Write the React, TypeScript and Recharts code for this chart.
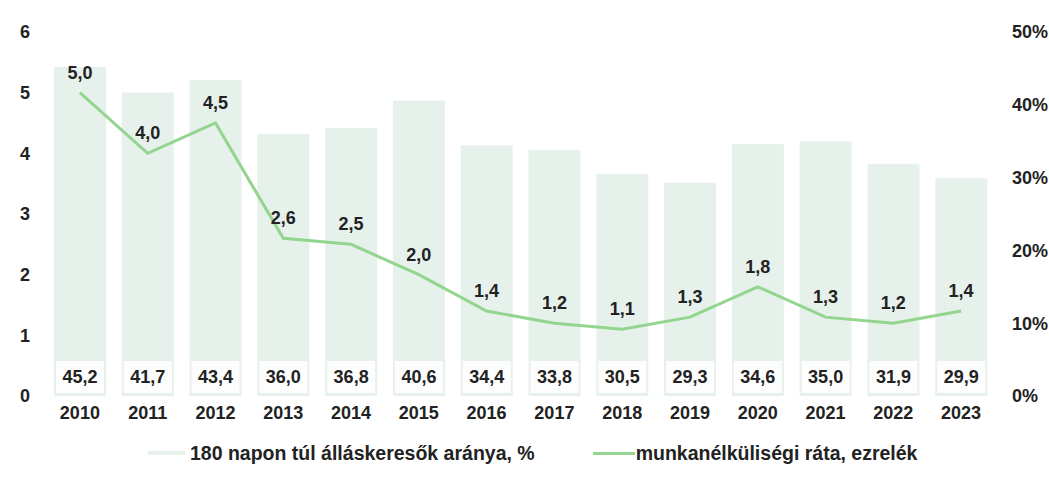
import { ComposedChart, Bar, Line, XAxis, YAxis, LabelList, Legend } from 'recharts';

const years = ['2010', '2011', '2012', '2013', '2014', '2015', '2016', '2017', '2018', '2019', '2020', '2021', '2022', '2023'];
// 180 napon túl álláskeresők aránya, %
const longTermShare = [45.2, 41.7, 43.4, 36.0, 36.8, 40.6, 34.4, 33.8, 30.5, 29.3, 34.6, 35.0, 31.9, 29.9];
// munkanélküliségi ráta, ezrelék
const unemploymentRate = [5.0, 4.0, 4.5, 2.6, 2.5, 2.0, 1.4, 1.2, 1.1, 1.3, 1.8, 1.3, 1.2, 1.4];
const leftTicks = [0, 1, 2, 3, 4, 5, 6];
const rightTicks = [0, 10, 20, 30, 40, 50];

const BAR_COLOR = '#e6f1eb';
const LINE_COLOR = '#93d58e';
const TEXT_COLOR = '#222222';
const FONT = '"Liberation Sans", Arial, sans-serif';

const data = years.map((year, i) => ({
  year,
  share: longTermShare[i],
  rate: unemploymentRate[i],
}));

const fmt = (v: number) => v.toFixed(1).replace('.', ',');

// white box with the value at the foot of each bar
const BarValueLabel = (props: any) => {
  const { x, y, width, height, value } = props;
  const bottom = y + height;
  return (
    <g>
      <rect x={x + 2} y={bottom - 35} width={width - 4} height={32} fill="#fdfdfd" />
      <text
        x={x + width / 2}
        y={bottom - 19}
        textAnchor="middle"
        dominantBaseline="central"
        fontFamily={FONT}
        fontWeight="bold"
        fontSize={18}
        fill={TEXT_COLOR}
      >
        {fmt(value)}
      </text>
    </g>
  );
};

const CustomLegend = () => (
  <div
    style={{
      display: 'flex',
      alignItems: 'center',
      paddingLeft: 148,
      marginTop: 12,
      height: 30,
      fontFamily: FONT,
      fontWeight: 'bold',
      fontSize: 19.5,
      color: TEXT_COLOR,
    }}
  >
    <span style={{ display: 'inline-block', width: 37, height: 4, background: BAR_COLOR, marginRight: 5 }} />
    <span>180 napon túl álláskeresők aránya, %</span>
    <span style={{ display: 'inline-block', width: 42, height: 3, background: LINE_COLOR, marginLeft: 58, marginRight: 1 }} />
    <span>munkanélküliségi ráta, ezrelék</span>
  </div>
);

export default function App() {
  const tickStyle = { fontFamily: FONT, fontWeight: 'bold', fontSize: 18, fill: TEXT_COLOR };
  return (
    <div style={{ position: 'absolute', left: 0, top: 0, background: '#fff' }}>
      <ComposedChart
        width={1049}
        height={481}
        data={data}
        margin={{ top: 32, right: 0, bottom: 25, left: 0 }}
        barCategoryGap={16}
      >
        <XAxis
          dataKey="year"
          axisLine={false}
          tickLine={false}
          tickSize={0}
          tickMargin={10}
          height={30}
          tick={tickStyle}
          interval={0}
        />
        <YAxis
          yAxisId="left"
          domain={[0, 6]}
          ticks={leftTicks}
          axisLine={false}
          tickLine={false}
          tickSize={0}
          tickMargin={16}
          width={46}
          tick={tickStyle}
        />
        <YAxis
          yAxisId="right"
          orientation="right"
          domain={[0, 50]}
          ticks={rightTicks}
          tickFormatter={(v) => `${v}%`}
          axisLine={false}
          tickLine={false}
          tickSize={0}
          tickMargin={17}
          width={54}
          tick={tickStyle}
        />
        <Legend
          verticalAlign="bottom"
          content={<CustomLegend />}
          wrapperStyle={{ height: 30 }}
        />
        <Bar
          yAxisId="right"
          dataKey="share"
          name="180 napon túl álláskeresők aránya, %"
          fill={BAR_COLOR}
          barSize={52}
          isAnimationActive={false}
        >
          <LabelList dataKey="share" content={<BarValueLabel />} />
        </Bar>
        <Line
          yAxisId="left"
          type="linear"
          dataKey="rate"
          name="munkanélküliségi ráta, ezrelék"
          stroke={LINE_COLOR}
          strokeWidth={3}
          dot={false}
          isAnimationActive={false}
        >
          <LabelList
            dataKey="rate"
            position="top"
            offset={14}
            formatter={(v: any) => fmt(Number(v))}
            style={{ fontFamily: FONT, fontWeight: 'bold', fontSize: 18, fill: TEXT_COLOR }}
          />
        </Line>
      </ComposedChart>
    </div>
  );
}
